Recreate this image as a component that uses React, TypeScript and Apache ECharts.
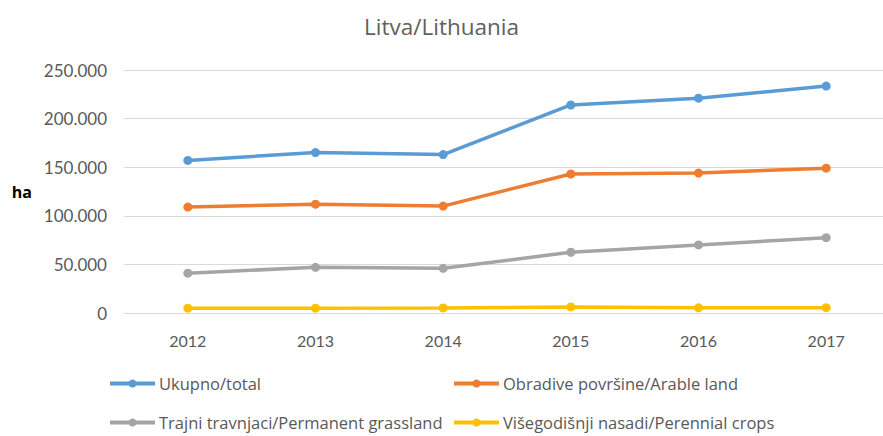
import React, { useEffect, useRef } from "react";
import * as echarts from "echarts";

const title = "Litva/Lithuania";
const years = ["2012", "2013", "2014", "2015", "2016", "2017"];
const seriesNames = [
  "Ukupno/total",
  "Obradive površine/Arable land",
  "Trajni travnjaci/Permanent grassland",
  "Višegodišnji nasadi/Perennial crops",
];
const total = [157000, 165000, 163000, 214000, 221000, 233500];
const arable = [109000, 112000, 110000, 143000, 144000, 149000];
const grassland = [41000, 47000, 46000, 62500, 70000, 77500];
const perennial = [5000, 5000, 5200, 6200, 5300, 5500];
const colors = ["#5B9BD5", "#ED7D31", "#A5A5A5", "#FFC000"];

const FONT = "Open Sans";
const NUMFONT = "Lato";

export default function App() {
  const ref = useRef<HTMLDivElement>(null);
  useEffect(() => {
    if (!ref.current) return;
    const chart = echarts.init(ref.current, undefined, { renderer: "svg" });
    const values = [total, arable, grassland, perennial];
    const legendPos = [
      { left: 108, top: 375 },
      { left: 452, top: 375 },
      { left: 108, top: 414 },
      { left: 452, top: 414 },
    ];
    chart.setOption({
      animation: false,
      color: colors,
      textStyle: { fontFamily: FONT },
      title: {
        text: title,
        left: "center",
        top: 10,
        textStyle: { fontFamily: FONT, fontSize: 22.5, fontWeight: "normal", color: "#606060" },
      },
      grid: { left: 124, width: 766, top: 70, bottom: 123, outerBoundsMode: "none", containLabel: false },
      legend: seriesNames.map((n, i) => ({
        data: [n],
        left: legendPos[i].left,
        top: legendPos[i].top,
        itemWidth: 45,
        itemHeight: 10,
        itemGap: 0,
        padding: 0,
        lineStyle: { width: 4 },
        textStyle: { fontFamily: FONT, fontSize: 16.5, color: "#595959", padding: [0, 0, 0, -1] },
      })),
      xAxis: {
        type: "category",
        data: years,
        boundaryGap: true,
        axisLine: { show: false },
        axisTick: { show: false },
        axisLabel: { fontFamily: NUMFONT, fontSize: 16, color: "#595959", margin: 19 },
      },
      yAxis: {
        type: "value",
        min: 0,
        max: 250000,
        interval: 50000,
        name: "ha",
        nameLocation: "middle",
        nameRotate: 0,
        nameGap: 92,
        nameTextStyle: { fontFamily: FONT, fontSize: 16, fontWeight: "bold", color: "#000" },
        axisLine: { show: false },
        axisTick: { show: false },
        axisLabel: {
          fontFamily: NUMFONT,
          fontSize: 17,
          color: "#595959",
          margin: 17,
          formatter: (v: number) => String(v).replace(/\B(?=(\d{3})+(?!\d))/g, "."),
        },
        splitLine: { lineStyle: { color: "#D9D9D9", width: 1 } },
      },
      series: seriesNames.map((n, i) => ({
        name: n,
        type: "line",
        data: values[i],
        symbol: "circle",
        symbolSize: 9,
        lineStyle: { width: 3.5, color: colors[i] },
        itemStyle: { color: colors[i] },
      })),
    });
    return () => chart.dispose();
  }, []);
  return (
    <div
      ref={ref}
      style={{ position: "fixed", left: 0, top: 0, width: 883, height: 436, background: "#fff" }}
    />
  );
}
